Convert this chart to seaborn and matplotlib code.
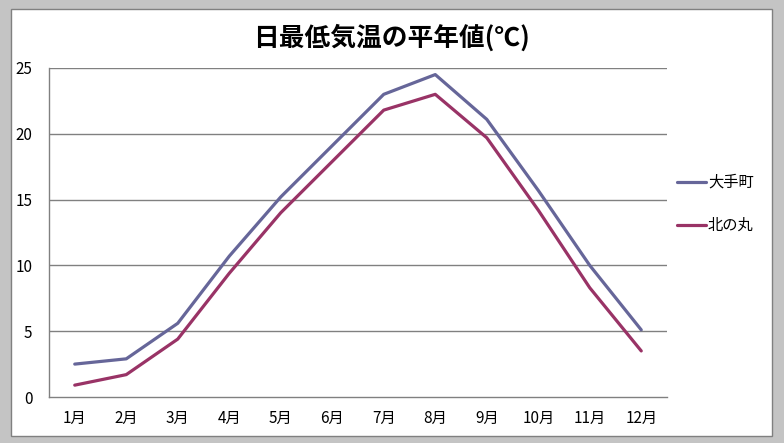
import numpy as np
import pandas as pd
import matplotlib
matplotlib.use("Agg")
import matplotlib.pyplot as plt
import matplotlib.patches as mpatches
import seaborn as sns

months = ["1月", "2月", "3月", "4月", "5月", "6月", "7月", "8月", "9月", "10月", "11月", "12月"]
otemachi = [2.5, 2.9, 5.6, 10.7, 15.2, 19.1, 23.0, 24.5, 21.1, 15.7, 10.0, 5.1]
kitanomaru = [0.9, 1.7, 4.4, 9.4, 14.0, 17.9, 21.8, 23.0, 19.7, 14.2, 8.3, 3.5]
series_names = ["大手町", "北の丸"]
series_colors = ["#666699", "#993366"]
yticks = [0, 5, 10, 15, 20, 25]
title = "日最低気温の平年値(℃)"

sns.set_theme(style="white")
plt.rcParams['font.family'] = ['Noto Sans CJK JP', 'DejaVu Sans']
plt.rcParams['text.color'] = 'black'

W, H = 784, 443
fig = plt.figure(figsize=(W / 100, H / 100), dpi=100)
fig.patch.set_facecolor("#c4c4c4")

# white chart area with grey border
fig.patches.append(mpatches.Rectangle((11 / W, 1 - 436 / H), (772 - 11) / W, (436 - 9) / H,
                                      transform=fig.transFigure, facecolor="white",
                                      edgecolor="#808080", linewidth=1.0, zorder=-5))

ax = fig.add_axes([49 / W, 1 - 397 / H, (667 - 49) / W, (397 - 68) / H])
ax.set_zorder(2)
ax.set_facecolor("white")

x = np.arange(len(months))
df = pd.DataFrame({
    "x": np.concatenate([x, x]),
    "temp": otemachi + kitanomaru,
    "site": [series_names[0]] * len(months) + [series_names[1]] * len(months),
})

sns.lineplot(data=df, x="x", y="temp", hue="site", palette=series_colors,
             linewidth=2.3, ax=ax, sort=False)

ax.set_xlim(-0.5, len(months) - 0.5)
ax.set_ylim(0, 25)
ax.set_yticks(yticks)
ax.set_yticklabels([str(v) for v in yticks])
ax.set_xticks(x)
ax.set_xticklabels(months)
ax.set_xticks(np.arange(-0.5, len(months), 1.0), minor=True)
ax.tick_params(axis="x", which="major", length=0, pad=9, labelsize=11, labelcolor="black")
ax.tick_params(axis="x", which="minor", length=5, width=1, color="#808080", direction="out")
ax.tick_params(axis="y", which="major", length=5, width=1, color="#808080", direction="out",
               pad=7, labelsize=11, labelcolor="black")
ax.set_xlabel("")
ax.set_ylabel("")

for yv in yticks[1:]:
    ax.axhline(yv, color="#808080", linewidth=1.0, zorder=0.5)

for s in ["top", "right"]:
    ax.spines[s].set_visible(False)
for s in ["left", "bottom"]:
    ax.spines[s].set_color("#808080")
    ax.spines[s].set_linewidth(1.0)

handles, labels = ax.get_legend_handles_labels()
ax.get_legend().remove()
leg = fig.legend(handles, labels, loc="center left", bbox_to_anchor=(677 / W, 1 - 204 / H),
                 frameon=False, fontsize=11, handlelength=1.9, handletextpad=0.12,
                 labelspacing=1.7, borderpad=0, borderaxespad=0)
leg.set_zorder(3)

fig.text(391 / W, 1 - 38 / H, title, ha="center", va="center", fontsize=18.5,
         fontweight="bold", color="black", zorder=3)

fig.savefig("out.png", dpi=100, facecolor=fig.get_facecolor())
